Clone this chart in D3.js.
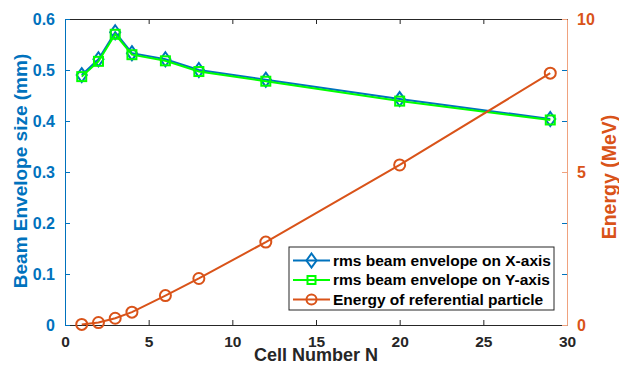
<!DOCTYPE html>
<html>
<head>
<meta charset="utf-8">
<script src="https://cdn.jsdelivr.net/npm/d3@7"></script>
<style>
  html, body { margin: 0; padding: 0; background: #fff; }
  svg { display: block; font-family: 'Liberation Sans', Arial, sans-serif; font-weight: bold; }
</style>
</head>
<body>
<div id="chart"></div>
<script>
// data
const cells = [1, 2, 3, 4, 6, 8, 12, 20, 29];
const rmsX = [0.490, 0.521, 0.574, 0.533, 0.521, 0.500, 0.481, 0.443, 0.404];
const rmsY = [0.487, 0.517, 0.570, 0.530, 0.518, 0.497, 0.478, 0.439, 0.402];
const energy = [0.02, 0.08, 0.22, 0.42, 0.96, 1.52, 2.71, 5.23, 8.23];
const xTicks = [0, 5, 10, 15, 20, 25, 30];
const yLeftTicks = [0, 0.1, 0.2, 0.3, 0.4, 0.5, 0.6];
const yRightTicks = [0, 5, 10];

const BLUE = '#0072BD';
const GREEN = '#00FF00';
const ORANGE = '#D95319';
const DARK = '#262626';
const FONT = "'Liberation Sans', Arial, sans-serif";

const W = 619, H = 365;
const margin = { top: 19, right: 52, bottom: 40, left: 65 };
const iw = W - margin.left - margin.right;
const ih = H - margin.top - margin.bottom;

const svg = d3.select('#chart').append('svg').attr('width', W).attr('height', H);
const g = svg.append('g').attr('transform', `translate(${margin.left},${margin.top})`);

const x = d3.scaleLinear().domain([0, 30]).range([0, iw]);
const yL = d3.scaleLinear().domain([0, 0.6]).range([ih, 0]);
const yR = d3.scaleLinear().domain([0, 10]).range([ih, 0]);

const tick = 5;

// bottom axis + top box edge
const xAxis = d3.axisBottom(x).tickValues(xTicks).tickSizeInner(-tick).tickSizeOuter(0).tickPadding(8)
  .tickFormat(d3.format('d'));
const gx = g.append('g').attr('transform', `translate(0,${ih})`).call(xAxis);
gx.selectAll('path, line').attr('stroke', DARK).attr('stroke-width', 1);
gx.selectAll('text').attr('fill', DARK).attr('font-size', 15.5).attr('font-weight', 'bold')
  .attr('font-family', FONT).attr('dy', null).attr('y', 22);

const gxTop = g.append('g').call(d3.axisTop(x).tickValues(xTicks).tickSizeInner(-tick).tickSizeOuter(0).tickFormat(''));
gxTop.selectAll('path, line').attr('stroke', DARK).attr('stroke-width', 1);

// left axis
const gyl = g.append('g').call(d3.axisLeft(yL).tickValues(yLeftTicks).tickSizeInner(-tick).tickSizeOuter(0).tickPadding(10)
  .tickFormat((d) => (d === 0 ? '0' : d3.format('.1f')(d))));
gyl.selectAll('path, line').attr('stroke', BLUE).attr('stroke-width', 1);
gyl.selectAll('text').attr('fill', BLUE).attr('font-size', 16).attr('font-weight', 'bold')
  .attr('font-family', FONT);

// left ticks mirrored on right side
const gylR = g.append('g').attr('transform', `translate(${iw},0)`)
  .call(d3.axisRight(yL).tickValues(yLeftTicks).tickSizeInner(-tick).tickSizeOuter(0).tickFormat(''));
gylR.select('.domain').remove();
gylR.selectAll('line').attr('stroke', BLUE);

// right axis
const gyr = g.append('g').attr('transform', `translate(${iw},0)`)
  .call(d3.axisRight(yR).tickValues(yRightTicks).tickSizeInner(-tick).tickSizeOuter(0).tickPadding(10).tickFormat(d3.format('d')));
gyr.selectAll('path, line').attr('stroke', '#F0A27E').attr('stroke-width', 1);
gyr.selectAll('text').attr('fill', ORANGE).attr('font-size', 16).attr('font-weight', 'bold')
  .attr('font-family', FONT);

// axis titles
svg.append('text')
  .attr('x', margin.left + iw / 2).attr('y', 361)
  .attr('text-anchor', 'middle').attr('fill', DARK).attr('font-size', 18)
  .text('Cell Number N');
svg.append('text')
  .attr('transform', `translate(27,${margin.top + ih / 2 - 1}) rotate(-90)`)
  .attr('text-anchor', 'middle').attr('fill', BLUE).attr('font-size', 19)
  .text('Beam Envelope size (mm)');
svg.append('text')
  .attr('transform', `translate(616,${177}) rotate(-90)`)
  .attr('text-anchor', 'middle').attr('fill', ORANGE).attr('font-size', 19.5)
  .text('Energy (MeV)');

// series
const lineL = (vals) => d3.line().x((d, i) => x(cells[i])).y((d) => yL(d))(vals);
const lineR = d3.line().x((d, i) => x(cells[i])).y((d) => yR(d));

const diamond = (cx, cy, r) => `M${cx},${cy - r}L${cx + r * 0.72},${cy}L${cx},${cy + r}L${cx - r * 0.72},${cy}Z`;

// X envelope (blue, diamonds)
g.append('path').attr('d', lineL(rmsX)).attr('fill', 'none').attr('stroke', BLUE).attr('stroke-width', 2);
g.selectAll('.mx').data(rmsX).join('path').attr('class', 'mx')
  .attr('d', (d, i) => diamond(x(cells[i]), yL(d), 7))
  .attr('fill', 'none').attr('stroke', BLUE).attr('stroke-width', 2);

// Y envelope (green, squares)
g.append('path').attr('d', lineL(rmsY)).attr('fill', 'none').attr('stroke', GREEN).attr('stroke-width', 2);
g.selectAll('.my').data(rmsY).join('rect').attr('class', 'my')
  .attr('x', (d, i) => x(cells[i]) - 4.5).attr('y', (d) => yL(d) - 4.5)
  .attr('width', 9).attr('height', 9)
  .attr('fill', 'none').attr('stroke', GREEN).attr('stroke-width', 2);

// energy (orange, circles)
g.append('path').attr('d', lineR(energy)).attr('fill', 'none').attr('stroke', ORANGE).attr('stroke-width', 2);
g.selectAll('.me').data(energy).join('circle').attr('class', 'me')
  .attr('cx', (d, i) => x(cells[i])).attr('cy', (d) => yR(d)).attr('r', 5.5)
  .attr('fill', 'none').attr('stroke', ORANGE).attr('stroke-width', 2);

// legend
const legendItems = [
  { label: 'rms beam envelope on X-axis', color: BLUE, marker: 'diamond' },
  { label: 'rms beam envelope on Y-axis', color: GREEN, marker: 'square' },
  { label: 'Energy of referential particle', color: ORANGE, marker: 'circle' },
];
const lg = svg.append('g').attr('transform', 'translate(289,247)');
lg.append('rect').attr('width', 265).attr('height', 63).attr('fill', '#fff')
  .attr('stroke', DARK).attr('stroke-width', 1);
legendItems.forEach((d, i) => {
  const cy = 13.5 + i * 19.5;
  const row = lg.append('g');
  row.append('line').attr('x1', 4).attr('x2', 41).attr('y1', cy).attr('y2', cy)
    .attr('stroke', d.color).attr('stroke-width', 2);
  if (d.marker === 'diamond') {
    row.append('path').attr('d', diamond(22.5, cy, 7)).attr('fill', 'none').attr('stroke', d.color).attr('stroke-width', 2);
  } else if (d.marker === 'square') {
    row.append('rect').attr('x', 18.5).attr('y', cy - 4).attr('width', 8).attr('height', 8)
      .attr('fill', 'none').attr('stroke', d.color).attr('stroke-width', 2);
  } else {
    row.append('circle').attr('cx', 22.5).attr('cy', cy).attr('r', 5)
      .attr('fill', 'none').attr('stroke', d.color).attr('stroke-width', 2);
  }
  row.append('text').attr('x', 44).attr('y', cy).attr('dy', '0.35em')
    .attr('fill', '#000').attr('font-size', 15.5).text(d.label);
});
</script>
</body>
</html>
